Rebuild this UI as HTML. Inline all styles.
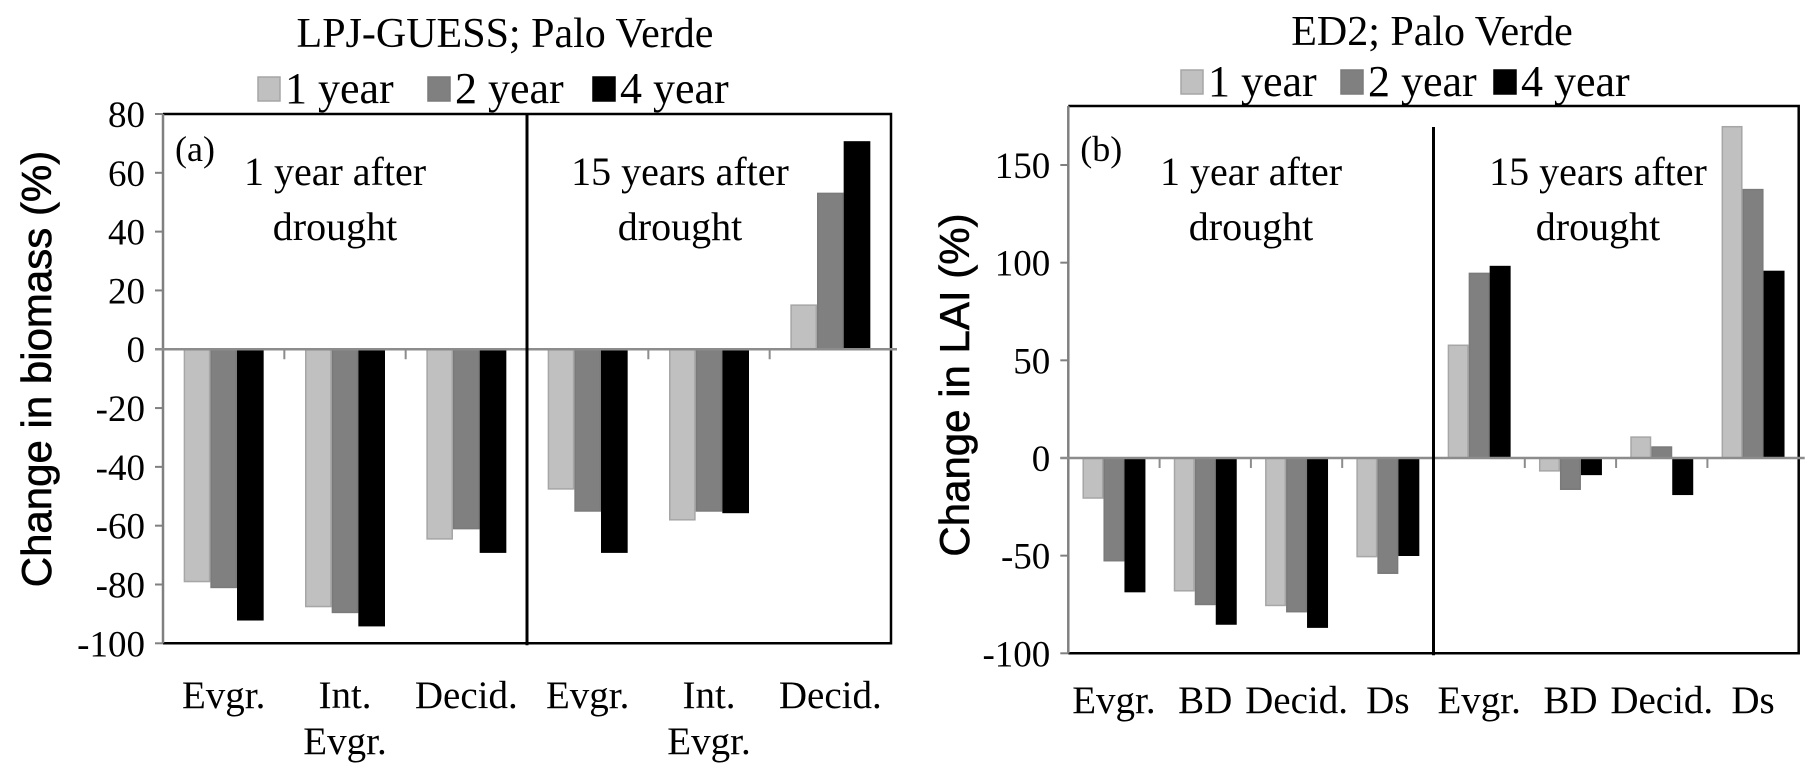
<!DOCTYPE html>
<html><head><meta charset="utf-8"><style>
html,body{margin:0;padding:0;background:#fff;}
svg{display:block;}
text{font-family:"Liberation Serif","Times New Roman",serif;fill:#000;}
.yt{font-family:"Liberation Sans",Arial,sans-serif;}
</style></head><body>
<svg id="fig" width="1819" height="781" viewBox="0 0 1819 781" xmlns="http://www.w3.org/2000/svg"></svg>
<script>
// Panel (a) data
const catsA = [["Evgr."],["Int.","Evgr."],["Decid."],["Evgr."],["Int.","Evgr."],["Decid."]];
const a1yr = [-79, -87.5, -64.5, -47.5, -58, 15];
const a2yr = [-81, -89.5, -61, -55, -55, 53];
const a4yr = [-92, -94, -69, -69, -55.5, 70.5];
const ticksA = [80, 60, 40, 20, 0, -20, -40, -60, -80, -100];
// Panel (b) data
const catsB = [["Evgr."],["BD"],["Decid."],["Ds"],["Evgr."],["BD"],["Decid."],["Ds"]];
const b1yr = [-20.5, -68, -75.5, -50.5, 57.7, -6.6, 10.7, 169.6];
const b2yr = [-52.6, -75, -78.7, -59, 94.5, -16, 5.6, 137.4];
const b4yr = [-68.4, -85, -86.6, -49.8, 98, -8.4, -18.6, 95.5];
const ticksB = [150, 100, 50, 0, -50, -100];
const seriesNames = ["1 year", "2 year", "4 year"];

const NS = "http://www.w3.org/2000/svg";
const svg = document.getElementById("fig");
function mk(tag, attrs, parent, txt) {
  const e = document.createElementNS(NS, tag);
  for (const k in attrs) e.setAttribute(k, attrs[k]);
  if (txt !== undefined) e.textContent = txt;
  (parent || svg).appendChild(e);
  return e;
}
const fills = ["#c0c0c0", "#808080", "#000000"];
const strokes = ["#a6a6a6", "#7a7a7a", "#000000"];

function panel(o) {
  const g = mk("g", {});
  
  
  const y = v => o.yTop + (o.vMax - v) * (o.yBot - o.yTop) / (o.vMax - o.vMin);
  const n = o.cats.length;
  const cw = (o.xR - o.x0) / n;
  const x = i => o.x0 + i * cw;
  const bw = cw / o.gapDiv;
  const t = mk("text", {x: o.titleX, y: o.titleY, "font-size": 42, "text-anchor": "middle"}, g, o.title);
  
  
  o.legend.forEach((lx, k) => {
    const sq = mk("rect", {x: lx, y: o.legY - 26, width: 22, height: 24, fill: fills[k], stroke: strokes[k], "stroke-width": 1.5}, g);
    
    
    const lt = mk("text", {x: lx + 27, y: o.legY, "font-size": 44}, g, seriesNames[k]);
    
    
  });
  const box = mk("path", {d: `M${o.x0},${o.boxTop} H${o.xR} V${o.yBot} H${o.x0}`, fill: "none", stroke: "#000", "stroke-width": 2.5}, g);
  
  
  o.series.forEach((vals, k) => {
    vals.forEach((v, i) => {
      const bx = x(i) + (cw - 3 * bw) / 2 + k * bw;
      const y0 = y(0), yv = y(v);
      const r = mk("rect", {x: bx + 0.75, y: Math.min(y0, yv), width: bw - 1.5, height: Math.abs(yv - y0), fill: fills[k], stroke: strokes[k], "stroke-width": 1.5}, g);
      
      
    });
  });
  const ya = mk("line", {x1: o.x0, y1: o.boxTop, x2: o.x0, y2: o.yBot, stroke: "#808080", "stroke-width": 2.5}, g);
  
  
  o.ticks.forEach(tv => {
    mk("line", {x1: o.x0 - 8, y1: y(tv), x2: o.x0, y2: y(tv), stroke: "#808080", "stroke-width": 2}, g);
    const tl = mk("text", {x: o.x0 - 18, y: y(tv) + 13, "font-size": 37, "text-anchor": "end"}, g, String(tv));
    
    
  });
  const z = mk("line", {x1: o.x0 - 8, y1: y(0), x2: o.xR + 6, y2: y(0), stroke: "#8c8c8c", "stroke-width": 2.5}, g);
  
  
  for (let i = 1; i < n; i++) {
    mk("line", {x1: x(i), y1: y(0), x2: x(i), y2: y(0) + 10, stroke: "#8c8c8c", "stroke-width": 2}, g);
  }
  const d = mk("line", {x1: x(n / 2), y1: o.divTop, x2: x(n / 2), y2: o.yBot + 2, stroke: "#000", "stroke-width": 3}, g);
  
  
  o.cats.forEach((c, i) => {
    c.forEach((line, j) => {
      const cl = mk("text", {x: x(i) + cw / 2, y: o.catY + j * 46, "font-size": 39, "text-anchor": "middle"}, g, line);
      
      
    });
  });
  const pl = mk("text", {x: o.x0 + 12, y: 161, "font-size": 36}, g, o.letter);
  
  
  [["1 year after", "drought", o.sec1], ["15 years after", "drought", o.sec2]].forEach((s, k) => {
    const a = mk("text", {x: s[2], y: 185, "font-size": 40, "text-anchor": "middle"}, g, s[0]);
    
    
    mk("text", {x: s[2], y: 240, "font-size": 40, "text-anchor": "middle"}, g, s[1]);
  });
  const yt = mk("text", {x: 0, y: 0, "font-size": 42, "text-anchor": "middle", class: "yt", stroke: "#000", "stroke-width": 0.6, transform: `translate(${o.ytX},${o.ytY}) rotate(-90)`}, g, o.ytitle);
  
  
}

panel({id: "panel-a", title: "LPJ-GUESS; Palo Verde", titleX: 505, titleY: 47, legY: 103, legend: [258, 428, 593],
  x0: 163, xR: 891, yTop: 114, yBot: 643.3, boxTop: 114, divTop: 114, vMax: 80, vMin: -100, gapDiv: 4.55,
  cats: catsA, series: [a1yr, a2yr, a4yr], ticks: ticksA, catY: 708, letter: "(a)", sec1: 335, sec2: 680,
  ytitle: "Change in biomass (%)", ytX: 51, ytY: 369});
panel({id: "panel-b", title: "ED2; Palo Verde", titleX: 1432, titleY: 45, legY: 96, legend: [1181, 1341, 1494],
  x0: 1068.3, xR: 1798.7, yTop: 165, yBot: 653.3, boxTop: 106, divTop: 127, vMax: 150, vMin: -100, gapDiv: 4.35,
  cats: catsB, series: [b1yr, b2yr, b4yr], ticks: ticksB, catY: 713, letter: "(b)", sec1: 1251, sec2: 1598,
  ytitle: "Change in LAI (%)", ytX: 969, ytY: 385});
</script>
</body></html>
